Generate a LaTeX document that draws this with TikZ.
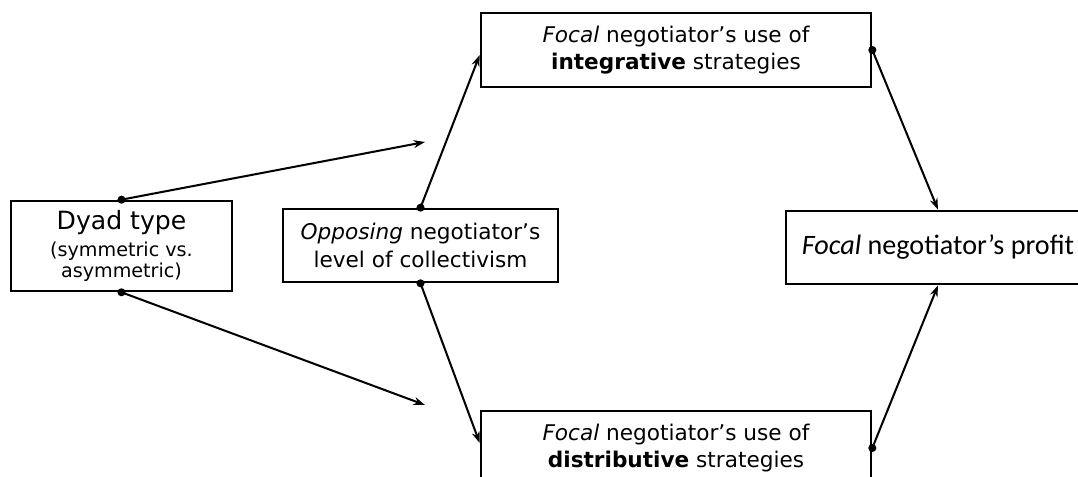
\documentclass[tikz,border=0pt]{standalone}
\usepackage{fontspec}
\setmainfont{DejaVu Sans}
\newfontfamily\calibri{Carlito}
\usetikzlibrary{arrows.meta}

\begin{document}
\begin{tikzpicture}[
    box/.style={draw, line width=1.5pt, align=center, inner sep=0pt},
    link/.style={-{Stealth[length=6.5pt, width=4.5pt]}, line width=1.15pt}]
                \useasboundingbox (0, 0) rectangle (21.56, 9.54);
                % boxes
                \node[box, minimum width=4.42cm, minimum height=1.8cm] (dyad) at (2.43, 4.62)
                    {\fontsize{14.3}{15}\selectfont Dyad type\\[3.2pt]
                     \fontsize{10.9}{11}\selectfont (symmetric vs.\\
                     \fontsize{10.9}{11}\selectfont asymmetric)};
                \node[box, minimum width=5.5cm, minimum height=1.46cm, font=\fontsize{12.3}{15.5}\selectfont] (opp) at (8.41, 4.63)
                    {\textit{Opposing} negotiator’s\\ level of collectivism};
                \node[box, minimum width=7.8cm, minimum height=1.48cm, font=\fontsize{12.3}{15.5}\selectfont] (integ) at (13.52, 8.54)
                    {\textit{Focal} negotiator’s use of\\ \textbf{integrative} strategies};
                \node[box, minimum width=7.8cm, minimum height=1.48cm, font=\fontsize{12.3}{15.5}\selectfont] (distr) at (13.52, 0.58)
                    {\textit{Focal} negotiator’s use of\\ \textbf{distributive} strategies};
                \node[box, minimum width=6.08cm, minimum height=1.46cm, font=\calibri\fontsize{16}{19}\selectfont] (profit) at (18.76, 4.59)
                    {\textit{Focal} negotiator’s profit};
                % free ends of the dyad arrows
                \coordinate (dyadtop) at (8.5, 6.7);
                \coordinate (dyadbot) at (8.5, 1.44);
                % connectors
                \fill (dyad.north) circle (2.3pt);
                \draw[link] (dyad.north) -- (dyadtop);
                \fill (dyad.south) circle (2.3pt);
                \draw[link] (dyad.south) -- (dyadbot);
                \fill (opp.north) circle (2.3pt);
                \draw[link] (opp.north) -- ([yshift=-0.1cm]integ.west);
                \fill (opp.south) circle (2.3pt);
                \draw[link] (opp.south) -- ([yshift=0.1cm]distr.west);
                \fill (integ.east) circle (2.3pt);
                \draw[link] (integ.east) -- (profit.north);
                \fill (distr.east) circle (2.3pt);
                \draw[link] (distr.east) -- (profit.south);
            \end{tikzpicture}
\end{document}
